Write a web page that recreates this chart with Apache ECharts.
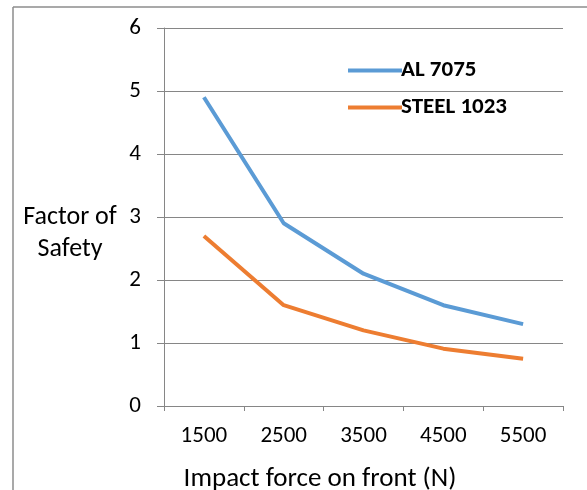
<!DOCTYPE html>
<html><head><meta charset="utf-8">
<script src="https://cdn.jsdelivr.net/npm/echarts@6/dist/echarts.min.js"></script>
<style>html,body{margin:0;padding:0;background:#fff}#c{width:587px;height:490px}</style>
</head><body><div id="c"></div>
<script>
const categories = ['1500', '2500', '3500', '4500', '5500'];
const al7075 = [4.9, 2.9, 2.1, 1.6, 1.3];
const steel1023 = [2.7, 1.6, 1.2, 0.91, 0.75];
const yTicks = [0, 1, 2, 3, 4, 5, 6];
const FONT = 'Carlito';
const chart = echarts.init(document.getElementById('c'), null, {renderer: 'canvas'});
chart.setOption({
  animation: false,
  backgroundColor: '#fff',
  graphic: [
    {type: 'line', shape: {x1: 13, y1: 7, x2: 587, y2: 7}, style: {stroke: '#8c8c8c', lineWidth: 1.5}},
    {type: 'line', shape: {x1: 13, y1: 7, x2: 13, y2: 490}, style: {stroke: '#8c8c8c', lineWidth: 1.5}},
    {type: 'text', x: 70, y: 233, style: {text: 'Factor of\nSafety', fontFamily: FONT, fontSize: 26, fill: '#000', lineHeight: 32, align: 'center', verticalAlign: 'middle'}},
    {type: 'text', x: 320, y: 479, style: {text: 'Impact force on front (N)', fontFamily: FONT, fontSize: 27, fill: '#000', align: 'center', verticalAlign: 'middle'}}
  ],
  grid: {left: 164, right: 24, top: 28, bottom: 84},
  legend: {
    orient: 'vertical', left: 343, top: 54, itemGap: 14,
    itemWidth: 54, itemHeight: 24, icon: 'path://M0,10 L54,10 L54,14 L0,14 Z',
    textStyle: {fontFamily: FONT, fontSize: 23, fontWeight: 'bold', color: '#000', padding: [0,0,0,-6]},
    data: ['AL 7075', 'STEEL 1023']
  },
  xAxis: {
    type: 'category', data: categories, boundaryGap: true,
    axisLine: {lineStyle: {color: '#868686', width: 1}},
    axisTick: {show: true, length: 5, lineStyle: {color: '#868686'}},
    axisLabel: {fontFamily: FONT, fontSize: 23, color: '#000', margin: 19}
  },
  yAxis: {
    type: 'value', min: 0, max: 6, interval: 1,
    axisLine: {show: true, lineStyle: {color: '#868686', width: 1}},
    axisTick: {show: true, length: 7, lineStyle: {color: '#868686'}},
    axisLabel: {fontFamily: FONT, fontSize: 23, color: '#000', margin: 23,
      formatter: v => yTicks.includes(v) ? String(v) : ''},
    splitLine: {lineStyle: {color: '#868686', width: 1}}
  },
  series: [
    {name: 'AL 7075', type: 'line', data: al7075, symbol: 'none',
     lineStyle: {color: '#5B9BD5', width: 4}, itemStyle: {color: '#5B9BD5'}},
    {name: 'STEEL 1023', type: 'line', data: steel1023, symbol: 'none',
     lineStyle: {color: '#ED7D31', width: 4}, itemStyle: {color: '#ED7D31'}}
  ]
});
</script></body></html>
